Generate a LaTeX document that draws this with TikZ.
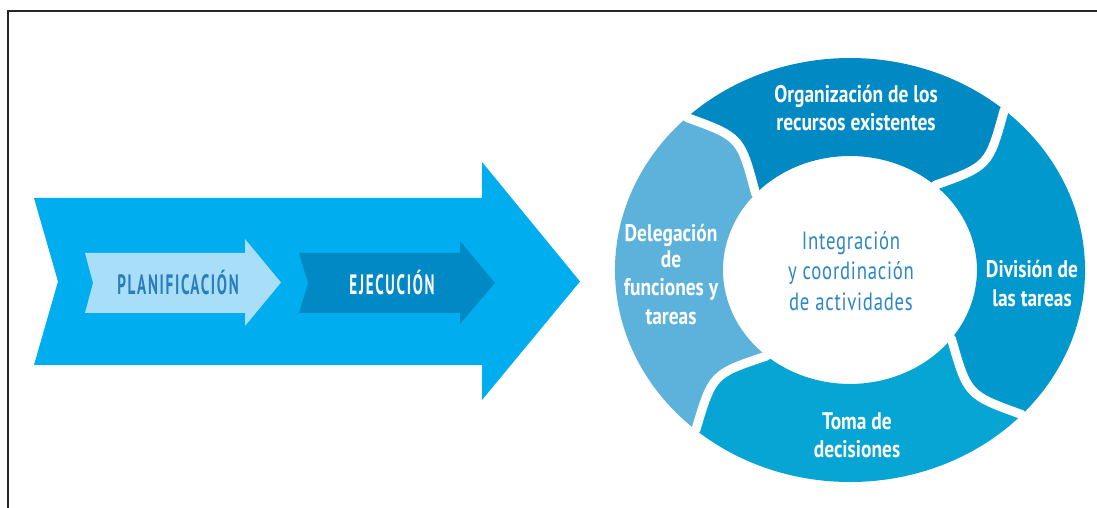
\documentclass[tikz,border=0pt]{standalone}
\usepackage{fontspec}
\setmainfont{PT Sans}
\newfontfamily\ringfont{PT Sans}[FakeStretch=0.81]
\newfontfamily\centfont{PT Sans}[FakeStretch=0.75,LetterSpace=3]
\newfontfamily\arrfont{PT Sans}[FakeStretch=0.54,LetterSpace=6]
\definecolor{bigarrow}{HTML}{00AEEF}
\definecolor{planfill}{HTML}{A8DEF8}
\definecolor{plantext}{HTML}{2A7DBC}
\definecolor{ejecfill}{HTML}{0089C4}
\definecolor{orgcol}{HTML}{0089C2}
\definecolor{divcol}{HTML}{0098CD}
\definecolor{tomacol}{HTML}{07A5D3}
\definecolor{delcol}{HTML}{5CB2DB}
\definecolor{centtext}{HTML}{2B85C6}
\begin{document}
\begin{tikzpicture}[x=1pt,y=1pt,
  ringlab/.style={text=white,font=\ringfont\bfseries\fontsize{24}{28}\selectfont,anchor=base,inner sep=0pt},
  centlab/.style={text=centtext,font=\centfont\fontsize{25}{29}\selectfont,anchor=base,inner sep=0pt},
  arrlab/.style={font=\arrfont\bfseries\fontsize{28}{32}\selectfont,anchor=base,inner sep=0pt},
  gapline/.style={white,line width=9pt,line cap=round},
  outerarc/.style={x radius=235,y radius=212},
  innerarc/.style={x radius=127,y radius=114}]
\useasboundingbox (0,0) rectangle (1097,508);
% frame
\draw[line width=2pt,black!85] (7.5,-3) -- (7.5,496.5) -- (1100,496.5);
% big arrow and inner arrows
\fill[bigarrow] (34,310) -- (482,310) -- (482,346) -- (580,226.5) -- (482,108) -- (482,143) -- (34,143) -- (58,226.5) -- cycle;
\fill[planfill] (85,255) -- (245,255) -- (245,269) -- (281,225.5) -- (245,182) -- (245,195) -- (85,195) -- (93,225) -- cycle;
\fill[ejecfill] (299,255) -- (460,255) -- (460,267) -- (495,225) -- (460,184) -- (460,195) -- (299,195) -- (308,225) -- cycle;
\node[arrlab,text=plantext] (plan) at (178,213) {PLANIFICACIÓN};
\node[arrlab,text=white] (ejec) at (392,213) {EJECUCIÓN};
% ring coordinates
\coordinate (O1) at (686.8,390.5);
\coordinate (I1) at (755.6,314.3);
\coordinate (K1) at (740.6,371.0);
\coordinate (O2) at (1004.2,398.0);
\coordinate (I2) at (935.0,322.7);
\coordinate (K2) at (988.8,342.0);
\coordinate (O3) at (1021.9,93.4);
\coordinate (I3) at (951.4,169.4);
\coordinate (K3) at (967.5,113.0);
\coordinate (O4) at (695.8,78.0);
\coordinate (I4) at (766.7,152.0);
\coordinate (K4) at (712.5,134.0);
% segments
\fill[orgcol] (O1) arc[start angle=134,end angle=49,outerarc] .. controls (K2) .. (I2)
  arc[start angle=48,end angle=138,innerarc] .. controls (K1) .. (O1) -- cycle;
\fill[divcol] (O2) arc[start angle=49,end angle=-43,outerarc] .. controls (K3) .. (I3)
  arc[start angle=-37,end angle=48,innerarc] .. controls (K2) .. (O2) -- cycle;
\fill[tomacol] (O3) arc[start angle=-43,end angle=-131,outerarc] .. controls (K4) .. (I4)
  arc[start angle=-131,end angle=-37,innerarc] .. controls (K3) .. (O3) -- cycle;
\fill[delcol] (O4) arc[start angle=-131,end angle=-226,outerarc] .. controls (K1) .. (I1)
  arc[start angle=-222,end angle=-131,innerarc] .. controls (K4) .. (O4) -- cycle;
% gaps
\draw[gapline] (O1) .. controls (K1) .. (I1);
\draw[gapline] (O2) .. controls (K2) .. (I2);
\draw[gapline] (O3) .. controls (K3) .. (I3);
\draw[gapline] (O4) .. controls (K4) .. (I4);
% labels
\node[ringlab] (org1) at (856,405) {Organización de los};
\node[ringlab] (org2) at (856,377) {recursos existentes};
\node[ringlab] (del1) at (671,266) {Delegación};
\node[ringlab] (del2) at (671,240) {de};
\node[ringlab] (del3) at (671,212) {funciones y};
\node[ringlab] (del4) at (671,183) {tareas};
\node[centlab] (cen1) at (851,258) {Integración};
\node[centlab] (cen2) at (851,228) {y coordinación};
\node[centlab] (cen3) at (851,197) {de actividades};
\node[ringlab] (div1) at (1032,230) {División de};
\node[ringlab] (div2) at (1032,201) {las tareas};
\node[ringlab] (tom1) at (857,78) {Toma de};
\node[ringlab] (tom2) at (857,50) {decisiones};
\end{tikzpicture}
\end{document}
